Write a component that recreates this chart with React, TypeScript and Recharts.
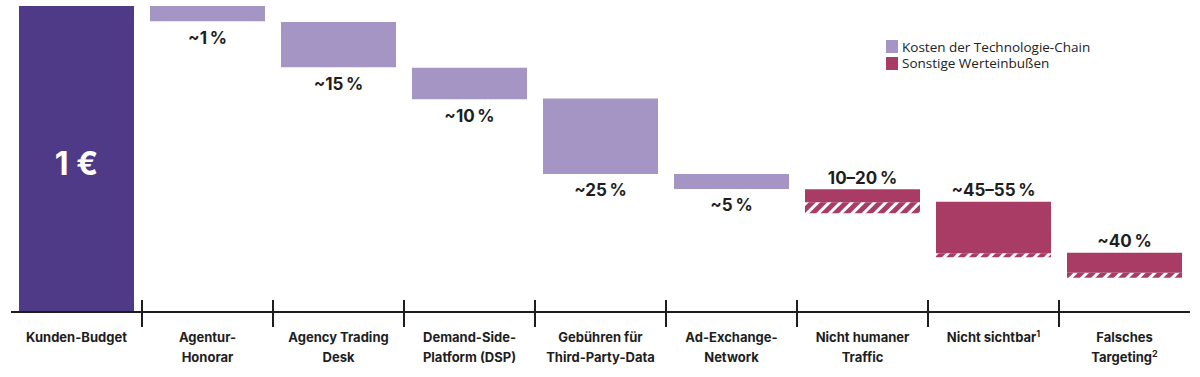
import React from "react";
import { BarChart, Bar, XAxis, YAxis, Legend, LabelList } from "recharts";

const categories = [
  "Kunden-Budget",
  "Agentur-\nHonorar",
  "Agency Trading\nDesk",
  "Demand-Side-\nPlatform (DSP)",
  "Gebühren für\nThird-Party-Data",
  "Ad-Exchange-\nNetwork",
  "Nicht humaner\nTraffic",
  "Nicht sichtbar^1",
  "Falsches\nTargeting^2",
];

// share of the original euro, 100 = whole budget
const budget = [100, 0, 0, 0, 0, 0, 0, 0, 0];
const base = [0, 95, 80, 69.5, 45.1, 40.2, 32.3, 17.9, 11.2];
const techCosts = [0, 5, 14.8, 10.3, 24.7, 4.9, 0, 0, 0];
const lossRange = [0, 0, 0, 0, 0, 0, 3.6, 1.3, 1.6];
const lossCore = [0, 0, 0, 0, 0, 0, 4.2, 16.8, 6.6];
const valueLabels = ["1 €", "~1\u2009%", "~15\u2009%", "~10\u2009%", "~25\u2009%", "~5\u2009%", "10–20\u2009%", "~45–55\u2009%", "~40\u2009%"];

const legendItems = [
  { name: "Kosten der Technologie-Chain", color: "#a595c5" },
  { name: "Sonstige Werteinbußen", color: "#a83c64" },
];

const DARK = "#4f3a87";
const LIGHT = "#a595c5";
const CRIMSON = "#a83c64";
const TEXT = "#1e1e1e";
const FONT = "Inter, 'Noto Sans', sans-serif";

const data = categories.map((name, i) => ({
  name,
  base: base[i],
  budget: budget[i],
  tech: techCosts[i],
  lossCore: lossCore[i],
  lossRange: lossRange[i],
  budgetLabel: budget[i] > 0 ? valueLabels[i] : "",
  techLabel: techCosts[i] > 0 ? valueLabels[i] : "",
  lossLabel: lossCore[i] > 0 ? valueLabels[i] : "",
}));

// eslint-disable-next-line @typescript-eslint/no-explicit-any
function CategoryTick({ x, y, payload, index }: any) {
  const lines = String(payload.value).split("\n");
  const half = payload.offset ?? 65.5;
  return (
    <g>
      {index < categories.length - 1 && (
        <line x1={x + half} x2={x + half} y1={y - 12} y2={y + 15} stroke={TEXT} strokeWidth={2} />
      )}
      <text x={x} y={y + 30} textAnchor="middle" fill={TEXT} fontFamily={FONT} fontSize={13} fontWeight={700}>
        {lines.map((l, i) => {
          const [main, sup] = l.split("^");
          return (
            <tspan key={i} x={x} dy={i === 0 ? 0 : 19.5}>
              {main}
              {sup && <tspan fontSize={9} dy={-5}>{sup}</tspan>}
            </tspan>
          );
        })}
      </text>
    </g>
  );
}

// eslint-disable-next-line @typescript-eslint/no-explicit-any
function BelowLabel({ x, y, width, height, value }: any) {
  if (!value) return null;
  return (
    <text x={x + width / 2} y={y + height + 16.5} textAnchor="middle" dominantBaseline="central"
      fill={TEXT} fontFamily={FONT} fontSize={17} fontWeight={700}>
      {value}
    </text>
  );
}

// eslint-disable-next-line @typescript-eslint/no-explicit-any
function AboveLabel({ x, y, width, value }: any) {
  if (!value) return null;
  return (
    <text x={x + width / 2} y={y - 11.5} textAnchor="middle" dominantBaseline="central"
      fill={TEXT} fontFamily={FONT} fontSize={17} fontWeight={700}>
      {value}
    </text>
  );
}

// eslint-disable-next-line @typescript-eslint/no-explicit-any
function CenterLabel({ x, y, width, height, value }: any) {
  if (!value) return null;
  return (
    <text x={x + width / 2} y={y + height / 2 + 4.5} textAnchor="middle" dominantBaseline="central"
      fill="#fff" fontFamily={FONT} fontSize={32} fontWeight={700}>
      {value}
    </text>
  );
}

function LegendBox() {
  return (
    <div style={{ fontFamily: "'Open Sans', sans-serif", fontSize: 13.5, color: "#222" }}>
      {legendItems.map((it) => (
        <div key={it.name} style={{ display: "flex", alignItems: "center", height: 16.5 }}>
          <span style={{ display: "inline-block", width: 12, height: 13, background: it.color, marginRight: 4 }} />
          <span style={{ lineHeight: "16px", display: "inline-block", height: 16 }}>{it.name}</span>
        </div>
      ))}
    </div>
  );
}

export default function App() {
  return (
    <div style={{ position: "absolute", left: 0, top: 0, background: "#fff" }}>
      <BarChart
        width={1200}
        height={377}
        data={data}
        barSize={115}
        margin={{ top: 6, right: 10, left: 11, bottom: 0 }}
      >
        <defs>
          <pattern id="hatch" patternUnits="userSpaceOnUse" width={8} height={8} patternTransform="rotate(45)">
            <rect width={8} height={8} fill={CRIMSON} />
            <rect width={3} height={8} fill="#fff" />
          </pattern>
        </defs>
        <XAxis
          dataKey="name"
          height={65}
          interval={0}
          tickLine={false}
          tickSize={0}
          tickMargin={0}
          axisLine={{ stroke: TEXT, strokeWidth: 2 }}
          tick={<CategoryTick />}
        />
        <YAxis hide domain={[0, 100]} allowDataOverflow />
        <Legend
          layout="horizontal"
          verticalAlign="middle"
          align="center"
          content={<LegendBox />}
          wrapperStyle={{ left: 886, top: 38.5, width: "auto" }}
        />
        <Bar dataKey="base" stackId="w" fill="transparent" isAnimationActive={false} legendType="none" />
        <Bar dataKey="lossRange" stackId="w" fill="url(#hatch)" isAnimationActive={false} />
        <Bar dataKey="lossCore" stackId="w" fill={CRIMSON} isAnimationActive={false}>
          <LabelList dataKey="lossLabel" content={<AboveLabel />} />
        </Bar>
        <Bar dataKey="tech" stackId="w" fill={LIGHT} isAnimationActive={false}>
          <LabelList dataKey="techLabel" content={<BelowLabel />} />
        </Bar>
        <Bar dataKey="budget" stackId="w" fill={DARK} isAnimationActive={false}>
          <LabelList dataKey="budgetLabel" content={<CenterLabel />} />
        </Bar>
      </BarChart>
    </div>
  );
}
